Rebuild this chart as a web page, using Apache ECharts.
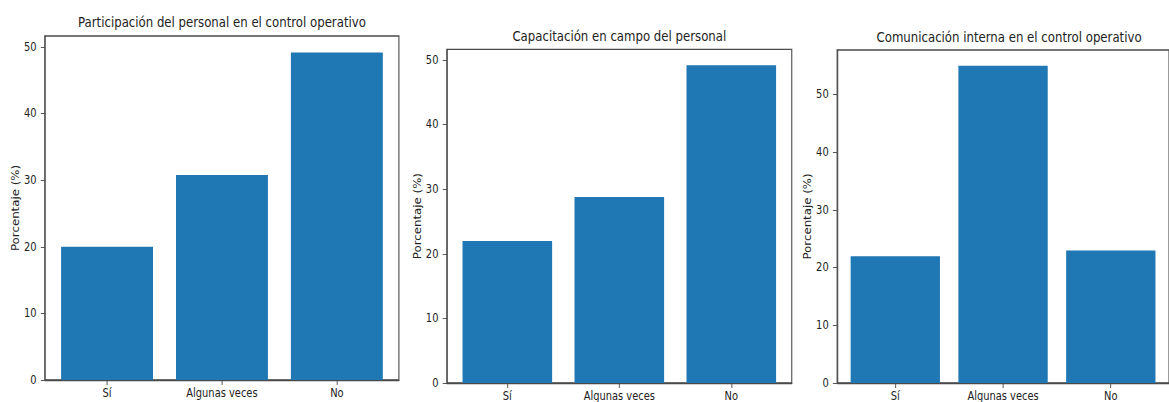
<!DOCTYPE html>
<html>
<head>
<meta charset="utf-8">
<script src="https://cdn.jsdelivr.net/npm/echarts@6/dist/echarts.min.js"></script>
<style>
  html, body { margin: 0; padding: 0; background: #fff; overflow: hidden; }
  #wrap { width: 1169px; height: 402px; overflow: hidden; }
  #c { width: 1392px; height: 402px; transform: scaleX(0.839799); transform-origin: 0 0; }
</style>
</head>
<body>
<div id="wrap"><div id="c"></div></div>
<script>
// ---- data ----
const categories = ['Sí', 'Algunas veces', 'No'];
const participacion = [20.0, 30.8, 49.2];
const capacitacion = [22.0, 28.8, 49.2];
const comunicacion = [22.0, 55.0, 23.0];
const titles = [
  'Participación del personal en el control operativo',
  'Capacitación en campo del personal',
  'Comunicación interna en el control operativo'
];
const yTickValues = [0, 10, 20, 30, 40, 50];
const yAxisName = 'Porcentaje (%)';

// ---- layout (virtual coords, page is scaled horizontally) ----
const panels = [
  { values: participacion, left: 53.6, width: 421.4, top: 36.0, height: 344.0, titleTop: 15 },
  { values: capacitacion,  left: 532.1, width: 410.7, top: 49.3, height: 334.7, titleTop: 29 },
  { values: comunicacion,  left: 996.8, width: 409.5, top: 50.0, height: 334.0, titleTop: 30.5 }
];

const FONT = 'DejaVu Sans';
const TXT = '#222222';
const LINE = '#4a4a4a';
const BAR = '#1f77b4';
const xMin = -0.54, xMax = 2.54;

const chart = echarts.init(document.getElementById('c'), null, { renderer: 'svg' });

const option = {
  animation: false,
  backgroundColor: '#fff',
  title: panels.map((p, i) => ({
    text: titles[i],
    left: p.left + p.width / 2,
    top: p.titleTop,
    textAlign: 'center',
    padding: 0,
    textStyle: { fontFamily: FONT, fontSize: 14, fontWeight: 'normal', color: TXT }
  })),
  grid: panels.map(p => ({
    left: p.left, top: p.top, width: p.width, height: p.height,
    show: true, borderColor: LINE, borderWidth: 1.3, backgroundColor: 'transparent',
    containLabel: false
  })),
  xAxis: panels.map((p, i) => ({
    type: 'value', gridIndex: i, min: xMin, max: xMax,
    axisLine: { show: true, onZero: false, lineStyle: { color: LINE, width: 1.3 } },
    axisTick: { show: true, length: 5, lineStyle: { color: LINE, width: 1 }, customValues: [0, 1, 2] },
    axisLabel: {
      customValues: [0, 1, 2], margin: 7,
      formatter: v => categories[Math.round(v)],
      fontFamily: FONT, fontSize: 11.8, color: TXT
    },
    splitLine: { show: false }
  })),
  yAxis: panels.map((p, i) => ({
    type: 'value', gridIndex: i, min: 0,
    max: v => v.max * 1.05,
    name: yAxisName, nameLocation: 'middle', nameGap: 27,
    nameTextStyle: { fontFamily: FONT, fontSize: 11.8, color: TXT },
    axisLine: { show: true, onZero: false, lineStyle: { color: LINE, width: 1.3 } },
    axisTick: { show: true, length: 5, lineStyle: { color: LINE, width: 1 }, customValues: yTickValues },
    axisLabel: { customValues: yTickValues, margin: 10, fontFamily: FONT, fontSize: 11.8, color: TXT },
    splitLine: { show: false }
  })),
  series: panels.map((p, i) => ({
    type: 'bar', xAxisIndex: i, yAxisIndex: i,
    barWidth: 0.8 * p.width / (xMax - xMin),
    itemStyle: { color: BAR },
    data: p.values.map((v, k) => [k, v])
  }))
};

chart.setOption(option);
</script>
</body>
</html>
